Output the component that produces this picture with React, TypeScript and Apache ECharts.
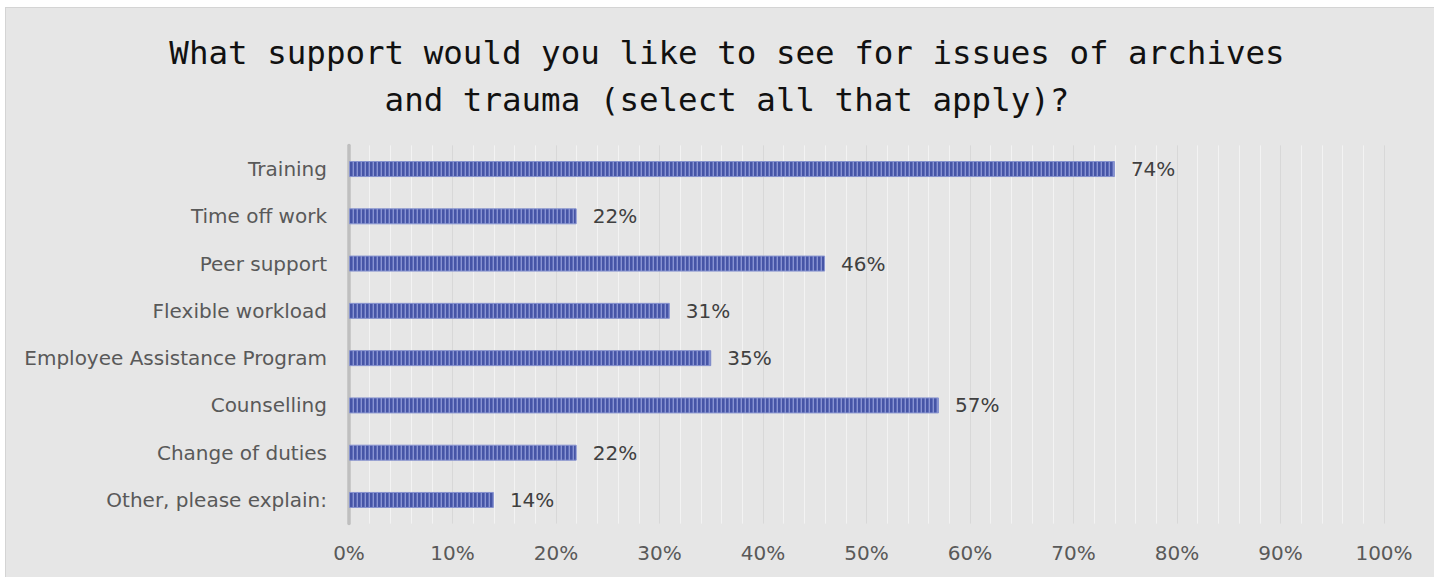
import React, { useEffect, useRef } from "react";
import * as echarts from "echarts";

const categories = [
  "Training",
  "Time off work",
  "Peer support",
  "Flexible workload",
  "Employee Assistance Program",
  "Counselling",
  "Change of duties",
  "Other, please explain:",
];
const values = [74, 22, 46, 31, 35, 57, 22, 14];
const titleText =
  "What support would you like to see for issues of archives\nand trauma (select all that apply)?";

function makePattern(): HTMLCanvasElement {
  const c = document.createElement("canvas");
  c.width = 4;
  c.height = 4;
  const ctx = c.getContext("2d")!;
  ctx.fillStyle = "#4655a6";
  ctx.fillRect(0, 0, 4, 4);
  ctx.fillStyle = "#8994d2";
  ctx.fillRect(3, 0, 1, 4);
  ctx.fillStyle = "#606ebb";
  ctx.fillRect(2, 0, 1, 4);
  return c;
}

export default function App() {
  const ref = useRef<HTMLDivElement>(null);
  useEffect(() => {
    document.body.style.margin = "0";
    document.body.style.overflow = "hidden";
    const chart = echarts.init(ref.current!, undefined, { renderer: "svg" });
    const font = "DejaVu Sans";
    const pattern = makePattern();
    chart.setOption({
      animation: false,
      backgroundColor: "#e6e6e6",
      title: {
        text: titleText,
        left: 716,
        top: 16,
        textAlign: "center",
        textStyle: {
          fontFamily: "DejaVu Sans Mono",
          fontSize: 32.5,
          fontWeight: "normal",
          color: "#111111",
          lineHeight: 47,
        },
      },
      grid: { left: 343, right: 50, top: 137.4, bottom: 53.4, containLabel: false },
      xAxis: {
        type: "value",
        min: 0,
        max: 100,
        interval: 10,
        axisLine: { show: false },
        axisTick: { show: false },
        axisLabel: {
          formatter: "{value}%",
          fontFamily: font,
          fontSize: 20,
          color: "#595959",
          margin: 19,
        },
        splitLine: { show: true, lineStyle: { color: "#d8d8d8", width: 1 } },
        minorTick: { show: false, splitNumber: 5 },
        minorSplitLine: { show: true, lineStyle: { color: "#f3f3f3", width: 1 } },
      },
      yAxis: {
        type: "category",
        data: categories,
        inverse: true,
        axisLine: { show: true, lineStyle: { color: "#bfbfbf", width: 3.5 } },
        axisTick: { show: false },
        axisLabel: {
          fontFamily: font,
          fontSize: 20,
          color: "#595959",
          margin: 22,
        },
        splitLine: { show: false },
      },
      series: [
        {
          type: "bar",
          data: values,
          barWidth: 16,
          itemStyle: {
            color: { image: pattern, repeat: "repeat" },
            borderColor: "#8793cf",
            borderWidth: 1,
          },
          label: {
            show: true,
            position: "right",
            distance: 16,
            formatter: "{c}%",
            fontFamily: font,
            fontSize: 20,
            color: "#404040",
          },
        },
      ],
    });
    return () => chart.dispose();
  }, []);
  return (
    <div
      style={{
        position: "absolute",
        left: 5,
        top: 7,
        width: 1429,
        height: 570,
        borderTop: "1px solid #d4d4d4",
        borderLeft: "1px solid #d4d4d4",
        boxSizing: "border-box",
        background: "#e6e6e6",
      }}
    >
      <div ref={ref} style={{ width: 1428, height: 569 }} />
    </div>
  );
}
